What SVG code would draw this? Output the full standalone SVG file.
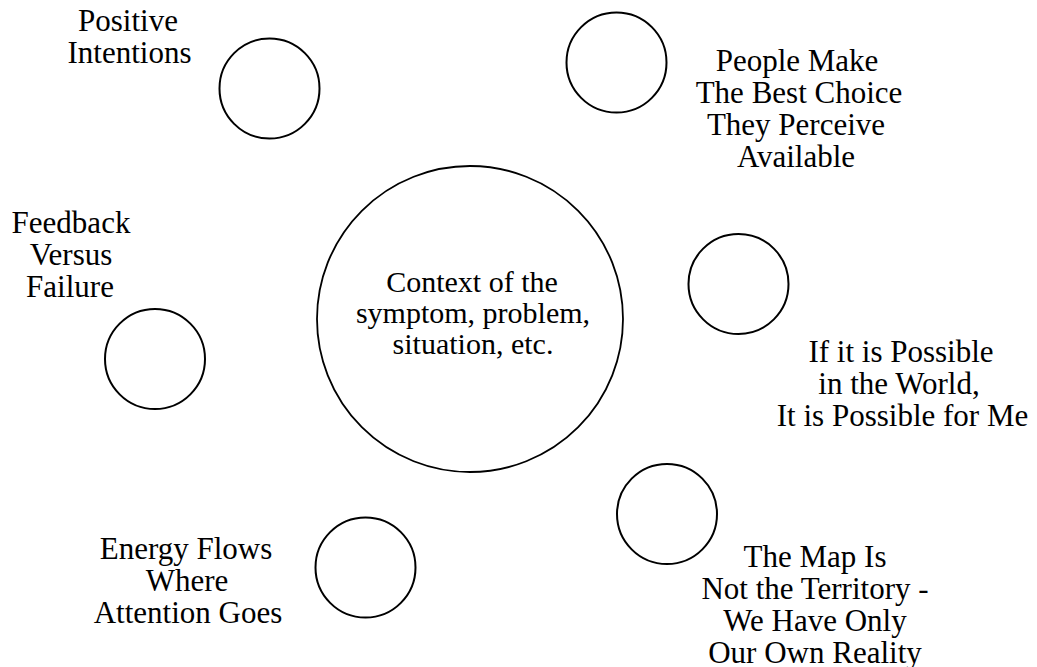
<svg xmlns="http://www.w3.org/2000/svg" width="1037" height="667" viewBox="0 0 1037 667">
<style>
.c{fill:none;stroke:#000;stroke-width:2}
.big{fill:none;stroke:#000;stroke-width:1.8}
text{font-family:"Liberation Serif","Times New Roman",serif;font-size:31px;fill:#000;text-anchor:middle}
text.m{font-size:30px}
</style>
<rect width="1037" height="667" fill="#fff"/>
<g id="connectors"/>
<g id="center">
<circle class="big" cx="470" cy="319" r="153"/>
<text class="m" x="472" y="292">Context of the</text>
<text class="m" x="473" y="323">symptom, problem,</text>
<text class="m" x="473" y="354">situation, etc.</text>
</g>
<g id="positive-intentions">
<circle class="c" cx="269.5" cy="88.5" r="50"/>
<text x="128" y="31">Positive</text>
<text x="129.5" y="63">Intentions</text>
</g>
<g id="people-make">
<circle class="c" cx="616.5" cy="62.5" r="50"/>
<text x="797" y="71">People Make</text>
<text x="799" y="103">The Best Choice</text>
<text x="796" y="135">They Perceive</text>
<text x="796" y="167">Available</text>
</g>
<g id="feedback">
<circle class="c" cx="155" cy="359" r="50"/>
<text x="71" y="233">Feedback</text>
<text x="71" y="265">Versus</text>
<text x="70" y="297">Failure</text>
</g>
<g id="possible">
<circle class="c" cx="738.5" cy="284" r="50"/>
<text x="901" y="362">If it is Possible</text>
<text x="899" y="394">in the World,</text>
<text x="902.5" y="426">It is Possible for Me</text>
</g>
<g id="map">
<circle class="c" cx="667" cy="514" r="50"/>
<text x="815" y="567">The Map Is</text>
<text x="815" y="599">Not the Territory -</text>
<text x="815" y="631">We Have Only</text>
<text x="815" y="663">Our Own Reality</text>
</g>
<g id="energy">
<circle class="c" cx="365.5" cy="567.5" r="50"/>
<text x="186" y="559">Energy Flows</text>
<text x="187" y="591">Where</text>
<text x="188" y="623">Attention Goes</text>
</g>
</svg>
